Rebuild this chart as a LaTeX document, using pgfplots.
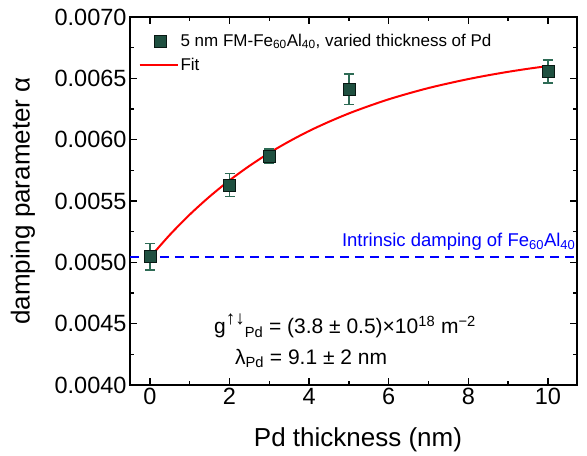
\documentclass[border=0pt]{standalone}
\usepackage{fontspec}
\setmainfont{Liberation Sans}
\usepackage{pgfplots}
\pgfplotsset{compat=1.18}
\definecolor{markgreen}{HTML}{1F5040}
\definecolor{bargreen}{HTML}{2E6B55}
\definecolor{lineblue}{HTML}{0000FF}
\pgfplotsset{
    fitlegend/.style={legend image code/.code={\draw[##1] (0pt,0pt) -- (38pt,0pt);}},
    marklegend/.style={legend image code/.code={\draw[##1] plot coordinates {(21pt,0pt)};}},
}
\begin{document}
\begin{tikzpicture}
\begin{axis}[
    name=ax,
    scale only axis,
    width=447pt, height=368pt,
    xmin=-0.5, xmax=10.73,
    ymin=0.0040, ymax=0.0070,
    xtick={0,2,4,6,8,10}, minor x tick num=1,
    ytick={0.0040,0.0045,0.0050,0.0055,0.0060,0.0065,0.0070}, minor y tick num=1,
    scaled y ticks=false,
    yticklabel style={/pgf/number format/.cd, fixed, fixed zerofill, precision=4},
    /pgf/number format/assume math mode=true,
    tick align=inside,
    major tick length=7pt, minor tick length=4pt,
    every tick/.style={black, line width=1.4pt},
    axis line style={line width=1.8pt},
    tick label style={font=\fontsize{23.5}{27}\selectfont},
    label style={font=\fontsize{26}{30}\selectfont},
    xlabel={Pd thickness (nm)},
    ylabel={damping parameter α},
    x label style={at={(axis description cs:0.51,-0.1495)}, anchor=center},
    y label style={at={(axis description cs:-0.2394,0.5)}, anchor=center},
    legend style={draw=none, fill=none, at={(0.012,0.965)}, anchor=north west,
        font=\fontsize{17}{20}\selectfont, row sep=6pt},
    legend cell align=left,
    reverse legend,
]
% fit curve
\addplot[red, line width=2pt, smooth, fitlegend]
    coordinates {
    (0,0.005040) (0.5,0.005224) (1,0.005389) (1.5,0.005536) (2,0.005668)
    (2.5,0.005786) (3,0.005892) (3.5,0.005986) (4,0.006071) (4.5,0.006146)
    (5,0.006214) (5.5,0.006274) (6,0.006329) (6.5,0.006377) (7,0.006421)
    (7.5,0.006459) (8,0.006494) (8.5,0.006525) (9,0.006553) (9.5,0.006578)
    (10,0.006600)};
\addlegendentry{Fit}
% intrinsic damping
\addplot[draw=lineblue, line width=2pt, dash pattern=on 9pt off 6pt, forget plot]
    coordinates {(-0.5,0.005042) (10.73,0.005042)};
% data
\addplot[only marks, mark=square*, mark size=6pt,
    mark options={fill=markgreen, draw=black!70!markgreen, line width=0.8pt},
    marklegend,
    error bars/.cd, y dir=both, y explicit,
    error bar style={bargreen, line width=1.6pt},
    error mark options={rotate=90, mark size=5pt, bargreen, line width=1.6pt}]
    coordinates {
    (0,0.005045) +- (0,0.000107)
    (2,0.005630) +- (0,0.000095)
    (3,0.005866) +- (0,0.000058)
    (5,0.006410) +- (0,0.000125)
    (10,0.006557) +- (0,0.000093)};
\addlegendentry{5 nm FM-Fe\textsubscript{60}Al\textsubscript{40}, varied thickness of Pd}
\node[anchor=south east, text=lineblue, font=\fontsize{18.5}{22}\selectfont, inner sep=1pt]
    at (axis cs:10.72,0.005085) {Intrinsic damping of Fe\textsubscript{60}Al\textsubscript{40}};
\node[font=\fontsize{21}{24}\selectfont] at (axis cs:4.9,0.004480)
    {g\raisebox{0.45em}{\fontsize{19}{19}\selectfont ↑↓}\textsubscript{Pd} = (3.8 ± 0.5)×10\textsuperscript{18} m\textsuperscript{−2}};
\node[font=\fontsize{21}{24}\selectfont] at (axis cs:4.05,0.004215)
    {λ\textsubscript{Pd} = 9.1 ± 2 nm};
\end{axis}
\pgfresetboundingbox
\path ([xshift=-130pt,yshift=-71pt]ax.south west) rectangle ([xshift=10pt,yshift=17pt]ax.north east);
\end{tikzpicture}
\end{document}
